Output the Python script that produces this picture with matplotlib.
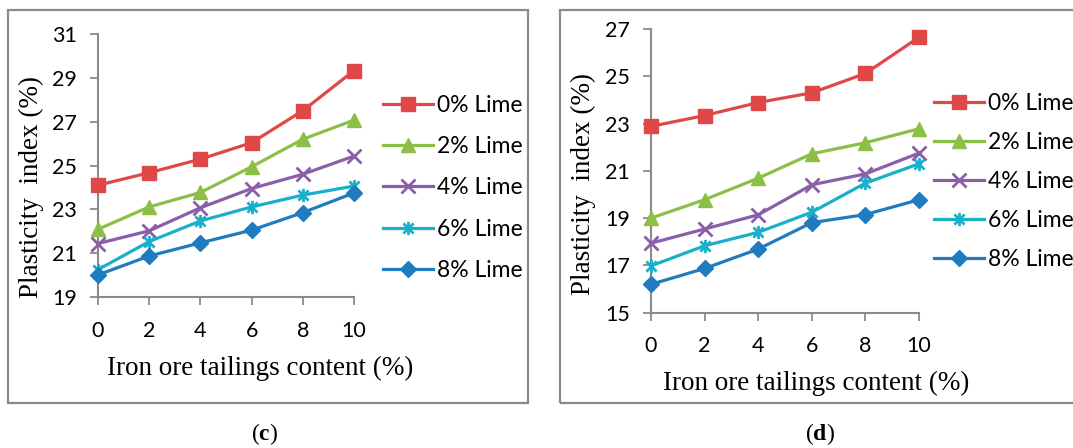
import matplotlib
matplotlib.use("Agg")
import matplotlib.pyplot as plt
from matplotlib.patches import Rectangle
from matplotlib.path import Path

# ---------------- data ----------------
iot_content = [0, 2, 4, 6, 8, 10]
series_labels = ["0% Lime", "2% Lime", "4% Lime", "6% Lime", "8% Lime"]

# panel (c)
c_lime0 = [24.1, 24.67, 25.29, 26.04, 27.5, 29.33]
c_lime2 = [22.09, 23.11, 23.77, 24.94, 26.2, 27.07]
c_lime4 = [21.44, 22.02, 23.07, 23.95, 24.6, 25.43]
c_lime6 = [20.25, 21.53, 22.47, 23.11, 23.65, 24.06]
c_lime8 = [20.01, 20.87, 21.47, 22.05, 22.85, 23.75]

# panel (d)
d_lime0 = [22.88, 23.34, 23.89, 24.3, 25.12, 26.65]
d_lime2 = [19.0, 19.78, 20.69, 21.72, 22.19, 22.78]
d_lime4 = [17.94, 18.54, 19.14, 20.41, 20.87, 21.75]
d_lime6 = [16.98, 17.83, 18.4, 19.25, 20.48, 21.3]
d_lime8 = [16.2, 16.87, 17.69, 18.81, 19.15, 19.78]

c_yticks = [19, 21, 23, 25, 27, 29, 31]
d_yticks = [15, 17, 19, 21, 23, 25, 27]
x_label = "Iron ore tailings content (%)"
y_label = "Plasticity  index (%)"

# ---------------- style ----------------
colors = ["#E04848", "#8CBF45", "#8A5FA8", "#1AAFCB", "#1F7CC0"]
star = Path([(-1, -1), (1, 1), (-1, 1), (1, -1), (0, -1.3), (0, 1.3)],
            [Path.MOVETO, Path.LINETO, Path.MOVETO, Path.LINETO, Path.MOVETO, Path.LINETO])
markers = ["s", "^", "x", star, "D"]
msizes = [9.5, 9.5, 9.5, 9.5, 8]

plt.rcParams["mathtext.fontset"] = "custom"
plt.rcParams["mathtext.rm"] = "Liberation Serif"
plt.rcParams["mathtext.bf"] = "Liberation Serif:bold"

W, H = 1073, 448
fig = plt.figure(figsize=(W / 100, H / 100), dpi=100)

def fx(px):
    return px / W

def fy(py):
    return 1 - py / H

# panel borders
fig.patches.append(Rectangle((fx(7.5), fy(403)), fx(528) - fx(7.5), fy(10) - fy(403),
                             transform=fig.transFigure, fill=False, ec="#8a8a8a", lw=1.6))
fig.patches.append(Rectangle((fx(560), fy(403)), 0.6, fy(10) - fy(403),
                             transform=fig.transFigure, fill=False, ec="#8a8a8a", lw=1.6))

def make_panel(rect, data, yticks, legend_x, legend_yc, lspacing, xlab_pos, ylab_pos, letter, letter_x):
    ax = fig.add_axes(rect)
    lines = []
    for vals, col, mk, ms, lab in zip(data, colors, markers, msizes, series_labels):
        ln, = ax.plot(iot_content, vals, color=col, lw=2.3, marker=mk, ms=ms,
                      mew=2.0 if mk in ("x",) or mk is star else 1, mec=col, mfc=col,
                      label=lab, clip_on=False, zorder=3)
        lines.append(ln)
    ax.set_xlim(0, 10)
    ax.set_ylim(yticks[0], yticks[-1])
    ax.set_xticks(iot_content)
    ax.set_yticks(yticks)
    for s in ["top", "right"]:
        ax.spines[s].set_visible(False)
    for s in ["left", "bottom"]:
        ax.spines[s].set_color("#8a8a8a")
        ax.spines[s].set_linewidth(1.5)
    ax.tick_params(axis="both", direction="out", length=6, width=1.3, color="#8a8a8a",
                   labelsize=15.5, labelcolor="black")
    ax.tick_params(axis="y", pad=9)
    ax.tick_params(axis="x", pad=11)
    for t in ax.get_xticklabels() + ax.get_yticklabels():
        t.set_fontfamily("Lato")
    ax.patch.set_alpha(0)
    fig.legend(handles=lines, loc="center left",
               bbox_to_anchor=(fx(legend_x), fy(legend_yc)), bbox_transform=fig.transFigure,
               frameon=False, prop={"family": "Lato", "size": 16.5},
               handlelength=2.2, handletextpad=0.15, labelspacing=lspacing,
               borderpad=0, borderaxespad=0)
    fig.text(fx(xlab_pos[0]), fy(xlab_pos[1]), x_label, family="Liberation Serif",
             fontsize=19.5, ha="center", va="center")
    fig.text(fx(ylab_pos[0]), fy(ylab_pos[1]), y_label, family="Liberation Serif",
             fontsize=19.5, ha="center", va="center", rotation=90)
    fig.text(fx(letter_x), fy(434), "(" + r"$\mathbf{" + letter + "}$" + ")",
             family="Liberation Serif", fontsize=17, ha="center", va="center")
    return ax

make_panel([fx(98), fy(297), fx(354) - fx(98), fy(34) - fy(297)],
           [c_lime0, c_lime2, c_lime4, c_lime6, c_lime8], c_yticks,
           383, 188, 0.88, (260, 368), (31, 187), "c", 265)
make_panel([fx(651), fy(312.7), fx(919) - fx(651), fy(29) - fy(312.7)],
           [d_lime0, d_lime2, d_lime4, d_lime6, d_lime8], d_yticks,
           934, 181.5, 0.79, (816, 383), (583, 184), "d", 820)

fig.savefig("out.png", dpi=100)
